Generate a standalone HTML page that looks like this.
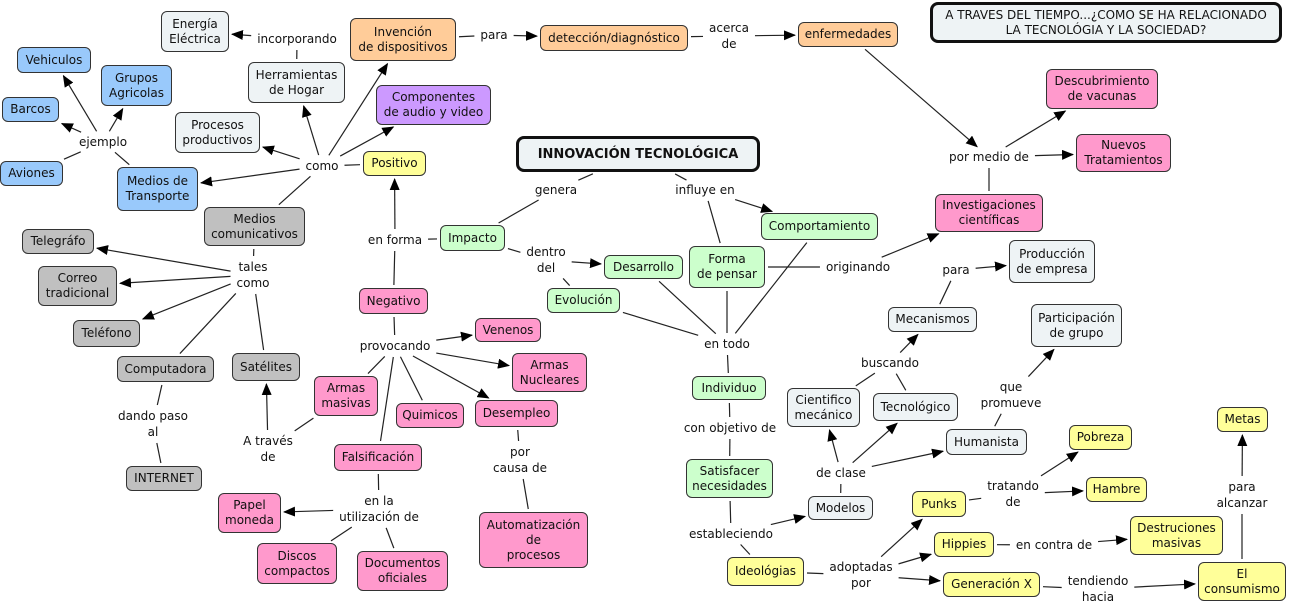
<!DOCTYPE html>
<html><head><meta charset="utf-8">
<style>
body{margin:0;width:1289px;height:604px;background:#fff;position:relative;overflow:hidden;font-family:"DejaVu Sans","Liberation Sans",sans-serif;font-size:12px;color:#111}
.n{position:absolute;box-sizing:border-box;border:1px solid #333;border-radius:6px;display:flex;align-items:center;justify-content:center;text-align:center;line-height:15px;z-index:2}
.l{position:absolute;transform:translate(-50%,-50%);background:#fff;padding:1px 4px;text-align:center;line-height:16px;white-space:nowrap;z-index:2}
svg{position:absolute;left:0;top:0;z-index:1}
</style></head><body>
<svg id="s" width="1289" height="604"><defs><marker id="a" markerWidth="12" markerHeight="10" refX="11" refY="5" orient="auto" markerUnits="userSpaceOnUse"><path d="M0,0 L12,5 L0,10 z" fill="#000"/></marker></defs></svg>
<script>
var B='#99c9fb',L='#eef3f5',O='#ffcc99',P='#cc99ff',Y='#ffff99',G='#ccffcc',K='#ff99cc',R='#c0c0c0';
var nodes={
veh:[17,47,91,73,B,'Vehiculos'],gru:[101,65,172,106,B,'Grupos<br>Agricolas'],bar:[2,97,59,122,B,'Barcos'],avi:[0,161,63,186,B,'Aviones'],mtr:[117,167,198,211,B,'Medios de<br>Transporte'],
ene:[161,11,229,52,L,'Energía<br>Eléctrica'],her:[248,62,345,103,L,'Herramientas<br>de Hogar'],pro:[175,112,260,153,L,'Procesos<br>productivos'],
cie:[787,388,860,427,L,'Cientifico<br>mecánico'],tec:[873,393,958,421,L,'Tecnológico'],hum:[946,429,1027,455,L,'Humanista'],mod:[808,496,873,520,L,'Modelos'],mec:[888,307,977,332,L,'Mecanismos'],prd:[1009,240,1095,283,L,'Producción<br>de empresa'],par:[1031,304,1122,347,L,'Participación<br>de grupo'],
inv:[350,18,456,61,O,'Invención<br>de dispositivos'],det:[540,25,688,51,O,'detección/diagnóstico'],enf:[798,22,898,47,O,'enfermedades'],
com:[376,85,491,125,P,'Componentes<br>de audio y video'],
pos:[363,151,426,176,Y,'Positivo'],pob:[1069,425,1132,450,Y,'Pobreza'],ham:[1086,477,1147,502,Y,'Hambre'],met:[1217,407,1268,432,Y,'Metas'],pun:[912,491,966,517,Y,'Punks'],hip:[934,532,994,557,Y,'Hippies'],des:[1130,516,1223,555,Y,'Destruciones<br>masivas'],ide:[727,557,804,586,Y,'Ideológias'],gen:[943,572,1040,597,Y,'Generación X'],con:[1198,562,1286,601,Y,'El<br>consumismo'],
imp:[440,225,505,251,G,'Impacto'],dsr:[604,255,683,279,G,'Desarrollo'],evo:[547,288,620,313,G,'Evolución'],for:[689,246,765,288,G,'Forma<br>de pensar'],cmp:[761,213,878,240,G,'Comportamiento'],ind:[692,376,766,400,G,'Individuo'],sat:[686,459,773,498,G,'Satisfacer<br>necesidades'],
vac:[1046,69,1158,109,K,'Descubrimiento<br>de vacunas'],tra:[1076,134,1171,172,K,'Nuevos<br>Tratamientos'],ivs:[935,194,1043,232,K,'Investigaciones<br>científicas'],neg:[359,288,428,314,K,'Negativo'],ven:[475,318,541,342,K,'Venenos'],anu:[512,353,587,392,K,'Armas<br>Nucleares'],ama:[314,376,378,416,K,'Armas<br>masivas'],qui:[396,403,464,428,K,'Quimicos'],dem:[475,400,558,427,K,'Desempleo'],fal:[334,444,422,471,K,'Falsificación'],pap:[218,493,281,533,K,'Papel<br>moneda'],dis:[257,543,337,584,K,'Discos<br>compactos'],doc:[357,551,448,591,K,'Documentos<br>oficiales'],aut:[479,512,588,568,K,'Automatización<br>de<br>procesos'],
mco:[204,207,305,246,R,'Medios<br>comunicativos'],tel:[22,229,94,254,R,'Telegráfo'],cor:[38,266,117,306,R,'Correo<br>tradicional'],tlf:[73,320,140,347,R,'Teléfono'],cpu:[117,356,214,382,R,'Computadora'],sal:[232,353,300,381,R,'Satélites'],int:[126,466,202,491,R,'INTERNET'],
tit:[516,136,760,172,L,'<b style="font-size:13px">INNOVACIÓN TECNOLÓGICA</b>'],top:[930,2,1282,43,L,'A TRAVES DEL TIEMPO...¿COMO SE HA RELACIONADO<br>LA TECNOLÓGIA Y LA SOCIEDAD?']};
var labels={
l1:[297,39,'incorporando'],l2:[494,35,'para'],l3:[729,36,'acerca<br>de'],l4:[103,142,'ejemplo'],l5:[322,166,'como'],l6:[556,190,'genera'],l7:[705,190,'influye en'],l8:[395,240,'en forma'],l9:[546,260,'dentro<br>del'],l10:[253,275,'tales<br>como'],l11:[858,267,'originando'],l12:[956,270,'para'],l13:[890,363,'buscando'],l14:[1011,395,'que<br>promueve'],l15:[395,346,'provocando'],l16:[727,344,'en todo'],l17:[989,157,'por medio de'],l18:[153,424,'dando paso<br>al'],l19:[268,449,'A través<br>de'],l20:[520,460,'por<br>causa de'],l21:[379,509,'en la<br>utilización de'],l22:[730,428,'con objetivo de'],l23:[841,473,'de clase'],l24:[1013,494,'tratando<br>de'],l25:[731,534,'estableciendo'],l26:[861,575,'adoptadas<br>por'],l27:[1054,545,'en contra de'],l28:[1098,589,'tendiendo<br>hacia'],l29:[1242,495,'para<br>alcanzar']};
var edges="her-l1 l1>ene inv-l2 l2>det det-l3 l3>enf enf>l17 l17>vac l17>tra ivs-l17 l4>veh l4>gru l4>bar l4-avi mtr-l4 l5>pro l5>her l5>inv l5>com l5>mtr pos-l5 mco-l5 imp-l8 l8>pos neg-l8 tit-l6 l6-imp tit-l7 l7>cmp l7-for imp-l9 l9>dsr l9-evo mco-l10 l10>tel l10>cor l10>tlf l10-cpu l10-sal cpu-l18 l18-int l19>sal l19-ama neg-l15 l15>ven l15>anu l15>dem l15-ama l15-qui l15-fal dem-l20 l20-aut fal-l21 l21>pap l21-dis l21-doc evo-l16 for-l16 cmp-l16 dsr-l16 l16-ind for-l11 l11>ivs ind-l22 l22-sat sat-l25 l25-ide l25>mod mod-l23 l23>cie l23>tec l23>hum cie-l13 tec-l13 l13>mec mec-l12 l12>prd hum-l14 l14>par ide-l26 l26>pun l26>hip l26>gen pun-l24 l24>pob l24>ham hip-l27 l27>des gen-l28 l28>con con-l29 l29>met".split(' ');
var R2={};
for(var k in nodes){var n=nodes[k],d=document.createElement('div');d.className='n';d.style.cssText='left:'+n[0]+'px;top:'+n[1]+'px;width:'+(n[2]-n[0])+'px;height:'+(n[3]-n[1])+'px;background:'+n[4];if(k=='tit'||k=='top'){d.style.border='3px solid #111';d.style.borderRadius='8px'}d.innerHTML=n[5];document.body.appendChild(d);R2[k]={cx:(n[0]+n[2])/2,cy:(n[1]+n[3])/2,hw:(n[2]-n[0])/2+1,hh:(n[3]-n[1])/2+1};}
for(var k in labels){var l=labels[k],d=document.createElement('div');d.className='l';d.style.left=l[0]+'px';d.style.top=l[1]+'px';d.innerHTML=l[2];document.body.appendChild(d);var r=d.getBoundingClientRect();R2[k]={cx:l[0],cy:l[1],hw:r.width/2,hh:r.height/2};}
var s=document.getElementById('s');
function t(r,dx,dy){var a=Math.abs(dx)>1e-6?r.hw/Math.abs(dx):1e9,b=Math.abs(dy)>1e-6?r.hh/Math.abs(dy):1e9;return Math.min(a,b);}
edges.forEach(function(e){var ar=e.indexOf('>')>=0,p=e.split(/[>-]/),A=R2[p[0]],C=R2[p[1]];var dx=C.cx-A.cx,dy=C.cy-A.cy;var ta=t(A,dx,dy),tb=t(C,dx,dy),len=Math.hypot(dx,dy);var g=2/len;
var x1=A.cx+dx*(ta+g),y1=A.cy+dy*(ta+g),x2=C.cx-dx*(tb+g),y2=C.cy-dy*(tb+g);
var ln=document.createElementNS('http://www.w3.org/2000/svg','line');ln.setAttribute('x1',x1);ln.setAttribute('y1',y1);ln.setAttribute('x2',x2);ln.setAttribute('y2',y2);ln.setAttribute('stroke','#222');ln.setAttribute('stroke-width','1.2');if(ar)ln.setAttribute('marker-end','url(#a)');s.appendChild(ln);});
</script>
</body></html>
